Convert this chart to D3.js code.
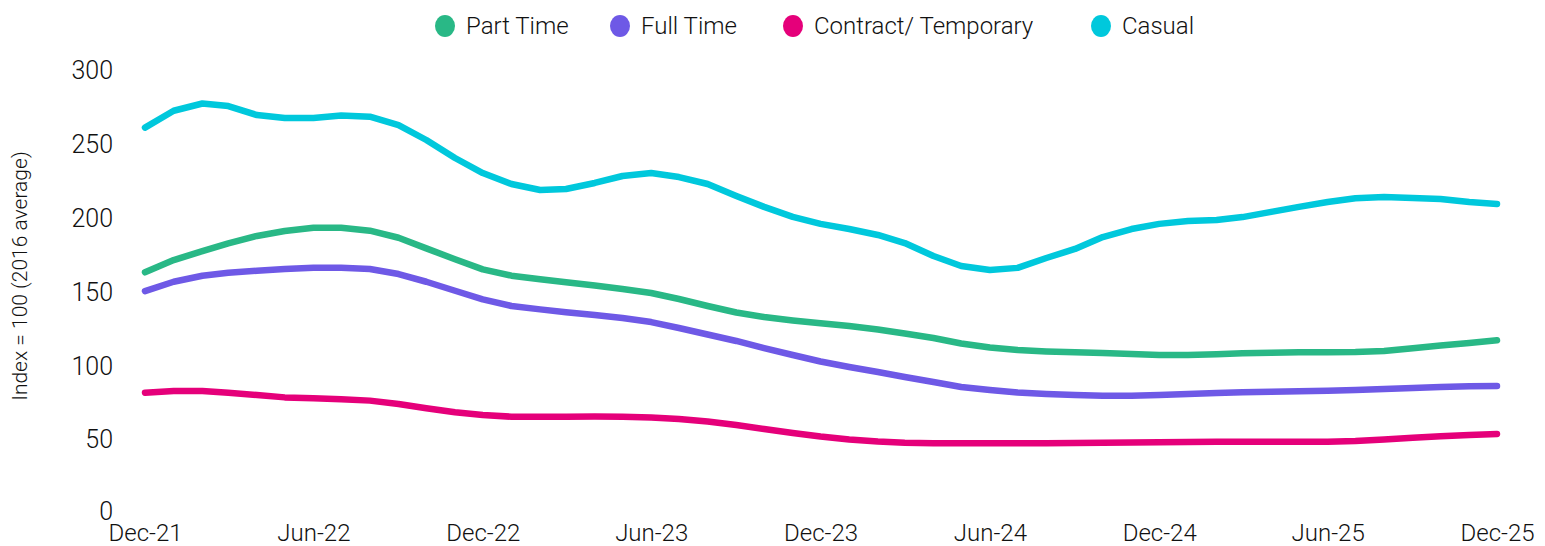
<!DOCTYPE html>
<html><head><meta charset="utf-8">
<script src="https://cdn.jsdelivr.net/npm/d3@7"></script>
<style>body{margin:0;background:#fff}svg{display:block}text{font-family:Roboto,"Noto Sans",sans-serif;fill:#111;font-weight:300}</style>
</head><body><svg id="c" width="1545" height="546"></svg>
<script>
const seriesNames = ["Part Time","Full Time","Contract/ Temporary","Casual"];
const colors = ["#29b886","#6e59e6","#e5007a","#00c8dc"];
const startMonth = "2021-12";
const partTime = [163,171.3,177.4,182.6,187.6,191,193.2,193.2,191.2,186.4,179.2,171.8,165,160.7,158.3,156.2,154,151.7,149,144.9,140.2,135.8,132.7,130.4,128.5,126.6,124.3,121.6,118.5,114.8,112.1,110.4,109.4,108.8,108.3,107.7,107,107,107.5,108.1,108.6,108.8,108.8,109,109.7,111.5,113.4,115.1,117];
const fullTime = [150.3,156.6,160.7,162.7,164.1,165.2,166.1,166.1,165.2,161.8,156.6,150.5,144.7,140.2,137.9,135.9,134.1,132,129.3,125.3,120.9,116.5,111.7,107,102.6,98.9,95.5,92.1,88.7,85.3,83.3,81.6,80.6,79.9,79.4,79.4,79.9,80.6,81.3,81.7,82.1,82.5,82.8,83.3,84,84.6,85.3,85.8,86];
const contract = [81.5,82.6,82.6,81.5,79.9,78.3,77.7,77,76.1,73.8,70.9,68.2,66.4,65.2,65.2,65.2,65.3,65.2,64.7,63.7,62,59.6,56.9,54.2,51.8,49.8,48.4,47.6,47.2,47.2,47.2,47.2,47.2,47.4,47.6,47.7,47.9,48.1,48.2,48.3,48.3,48.3,48.3,48.8,49.8,50.9,51.9,52.8,53.5];
const casual = [261,272.4,277.3,275.6,269.5,267.5,267.5,269.2,268.4,262.7,252.6,240.4,230.2,222.8,218.7,219.4,223.5,228.2,230.2,227.5,222.8,214.7,207.3,200.5,195.8,192.3,188.3,182.8,174,167.3,164.5,166,172.7,178.8,186.9,192.3,195.8,197.7,198.4,200.4,203.9,207.3,210.6,213.2,214,213.3,212.6,210.6,209.2];
const yTicks = [0,50,100,150,200,250,300];
const xTickLabels = ["Dec-21","Jun-22","Dec-22","Jun-23","Dec-23","Jun-24","Dec-24","Jun-25","Dec-25"];
const yTitle = "Index = 100 (2016 average)";

const allSeries = [partTime, fullTime, contract, casual];
const start = d3.utcParse("%Y-%m")(startMonth);
const dates = partTime.map((_, i) => d3.utcMonth.offset(start, i));

const svg = d3.select("#c");
const x = d3.scaleUtc().domain([dates[0], dates[dates.length-1]]).range([145, 1497]);
const y = d3.scaleLinear().domain([0, 300]).range([513, 70]);

// y axis labels
const yAxis = d3.axisLeft(y).tickValues(yTicks).tickSize(0).tickPadding(0);
const gy = svg.append("g").attr("transform","translate(113,0)").call(yAxis);
gy.select(".domain").remove();
gy.selectAll("text").style("font-size","25px").style("font-family","Roboto, sans-serif").style("font-weight","300").attr("fill","#111").attr("dy","0.35em");
gy.selectAll(".tick").filter(d => d === 0).select("text").attr("dy","0.25em");

// x axis labels
const xTickDates = xTickLabels.map((_, i) => d3.utcMonth.offset(start, i*6));
const xAxis = d3.axisBottom(x).tickValues(xTickDates).tickSize(0).tickPadding(0).tickFormat((d,i)=>xTickLabels[i]);
const gx = svg.append("g").attr("transform","translate(0,528)").call(xAxis);
gx.select(".domain").remove();
gx.selectAll("text").style("font-size","24px").style("font-family","Roboto, sans-serif").style("font-weight","300").attr("fill","#111").attr("dy","0.55em");

// y title
svg.append("text").attr("transform","translate(27,276) rotate(-90)").attr("text-anchor","middle")
  .style("font-size","21px").text(yTitle);

// lines
const line = d3.line().x((d,i)=>x(dates[i])).y(d=>y(d)).curve(d3.curveLinear);
allSeries.forEach((s, k) => {
  svg.append("path").datum(s).attr("d", line).attr("fill","none")
    .attr("stroke", colors[k]).attr("stroke-width", 6.5)
    .attr("stroke-linecap","round").attr("stroke-linejoin","round");
});

// legend
const legX = [445, 620, 793, 1101];
const lg = svg.append("g");
seriesNames.forEach((n, k) => {
  lg.append("ellipse").attr("cx", legX[k]).attr("cy", 26).attr("rx", 10).attr("ry", 11).attr("fill", colors[k]);
  lg.append("text").attr("x", legX[k] + 21).attr("y", 26).attr("dy","0.35em").style("font-size","24px").text(n);
});
</script></body></html>
